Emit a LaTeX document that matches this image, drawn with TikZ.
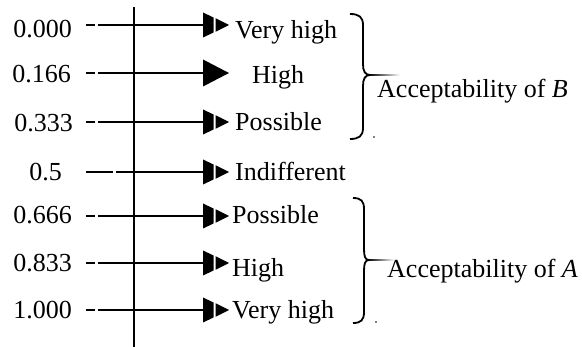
\documentclass[tikz,border=0pt]{standalone}
\usepackage{fontspec}
\setmainfont{Liberation Serif}
\begin{document}
\begin{tikzpicture}[x=1pt,y=-1pt,
  rule/.style={line width=1.8pt},
  val/.style={anchor=base east,inner sep=0pt,font=\fontsize{26}{30}\selectfont},
  lab/.style={anchor=base west,inner sep=0pt,font=\fontsize{26}{30}\selectfont},
  brace/.style={line width=1.8pt},
  pics/headtwo/.style={code={
    \fill (0,-12.5)--(10.5,-7.5)--(10.5,7.5)--(0,12.5)--cycle;
    \fill (12.5,-6.8)--(26,0)--(12.5,6.8)--cycle;}},
  pics/headone/.style={code={
    \fill (0,-13.5)--(26,0)--(0,13.5)--cycle;}}]
\useasboundingbox (0,0) rectangle (582,347);

% vertical axis
\coordinate (atop) at (134,7);
\coordinate (abot) at (134,347);
\draw[rule] (atop) -- (abot);

% rows: value, ray with head, label
\coordinate (s1) at (86,25);  \coordinate (e1) at (203,25);
\draw[rule,dash pattern=on 9pt off 3pt on 300pt] (s1) -- (e1);
\pic at (e1) {headtwo};
\node[val] (n1) at (72,38) {0.000};
\node[lab] (l1) at (235,39) {Very high};

\coordinate (s2) at (86,73);  \coordinate (e2) at (203,73);
\draw[rule,dash pattern=on 9pt off 3pt on 300pt] (s2) -- (e2);
\pic at (e2) {headone};
\node[val] (n2) at (71,83) {0.166};
\node[lab] (l2) at (252,84) {High};

\coordinate (s3) at (86,122); \coordinate (e3) at (203,122);
\draw[rule,dash pattern=on 9pt off 3pt on 300pt] (s3) -- (e3);
\pic at (e3) {headtwo};
\node[val] (n3) at (73,132) {0.333};
\node[lab] (l3) at (235,131) {Possible};

\coordinate (s4) at (86,172); \coordinate (e4) at (203,172);
\draw[rule,dash pattern=on 27pt off 3pt on 300pt] (s4) -- (e4);
\pic at (e4) {headtwo};
\node[val] (n4) at (62,181) {0.5};
\node[lab] (l4) at (235,181) {Indifferent};

\coordinate (s5) at (86,216); \coordinate (e5) at (203,216);
\draw[rule,dash pattern=on 9pt off 3pt on 300pt] (s5) -- (e5);
\pic at (e5) {headtwo};
\node[val] (n5) at (72,224) {0.666};
\node[lab] (l5) at (232,224) {Possible};

\coordinate (s6) at (86,263); \coordinate (e6) at (203,263);
\draw[rule,dash pattern=on 9pt off 3pt on 300pt] (s6) -- (e6);
\pic at (e6) {headtwo};
\node[val] (n6) at (72,272) {0.833};
\node[lab] (l6) at (232,277) {High};

\coordinate (s7) at (86,310); \coordinate (e7) at (203,310);
\draw[rule,dash pattern=on 9pt off 3pt on 300pt] (s7) -- (e7);
\pic at (e7) {headtwo};
\node[val] (n7) at (72,319) {1.000};
\node[lab] (l7) at (232,319) {Very high};

% brace grouping the B side
\draw[brace] (350,14) .. controls (359,14) and (363,17) .. (363,25) -- (363,64)
  .. controls (363,71) and (365,75) .. (370,75)
  .. controls (365,75) and (363,79) .. (363,86) -- (363,128)
  .. controls (363,136) and (359,139) .. (350,139);
\shade[left color=black,right color=white] (369,74.1) rectangle (400,75.9);
\fill (374,137) circle (0.8);
\node[lab] (accB) at (377,98) {Acceptability of \textit{B}};

% brace grouping the A side
\draw[brace] (353,198) .. controls (361,198) and (364,201) .. (364,209) -- (364,249)
  .. controls (364,256) and (365,260) .. (369,260)
  .. controls (365,260) and (364,264) .. (364,271) -- (364,312)
  .. controls (364,320) and (361,323) .. (353,323);
\shade[left color=black,right color=white] (368,259.1) rectangle (394,260.9);
\fill (376,322) circle (0.8);
\node[lab] (accA) at (387,278) {Acceptability of \textit{A}};
\end{tikzpicture}
\end{document}
